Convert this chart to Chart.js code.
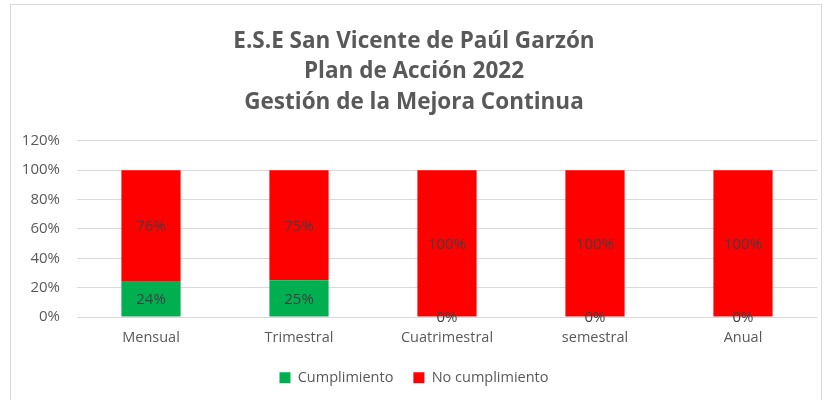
<!DOCTYPE html>
<html>
<head>
<meta charset="utf-8">
<script src="https://cdn.jsdelivr.net/npm/chart.js@4"></script>
<style>
  html, body { margin: 0; padding: 0; background: #fff; }
  #wrap { position: absolute; left: 10px; top: 4px; width: 812px; height: 400px; border: 1px solid #d9d9d9; box-sizing: border-box; }
  canvas { display: block; }
</style>
</head>
<body>
<div id="wrap"><canvas id="chart"></canvas></div>
<script>
const categories = ["Mensual", "Trimestral", "Cuatrimestral", "semestral", "Anual"];
const cumplimiento = [24, 25, 0, 0, 0];
const noCumplimiento = [76, 75, 100, 100, 100];
const titleLines = ["E.S.E San Vicente de Paúl Garzón", "Plan de Acción 2022", "Gestión de la Mejora Continua"];

// etiquetas de datos dentro de cada barra
const barLabels = {
  id: "barLabels",
  afterDatasetsDraw(chart) {
    const ctx = chart.ctx;
    ctx.save();
    ctx.font = "15px 'Open Sans', sans-serif";
    ctx.fillStyle = "#404040";
    ctx.textAlign = "center";
    ctx.textBaseline = "middle";
    chart.data.datasets.forEach((ds, i) => {
      chart.getDatasetMeta(i).data.forEach((bar, j) => {
        const p = bar.getCenterPoint();
        ctx.fillText(ds.data[j] + "%", p.x, p.y + 1);
      });
    });
    ctx.restore();
  }
};

new Chart(document.getElementById("chart"), {
  type: "bar",
  data: {
    labels: categories,
    datasets: [
      { label: "Cumplimiento", data: cumplimiento, backgroundColor: "#00b050", barPercentage: 0.4, categoryPercentage: 1 },
      { label: "No cumplimiento", data: noCumplimiento, backgroundColor: "#ff0000", barPercentage: 0.4, categoryPercentage: 1 }
    ]
  },
  options: {
    responsive: true,
    maintainAspectRatio: false,
    animation: false,
    layout: { padding: { left: 0, right: 4, top: 21, bottom: 8 } },
    scales: {
      x: {
        stacked: true,
        grid: { display: false },
        border: { display: false },
        ticks: { color: "#595959", font: { family: "'Open Sans', sans-serif", size: 14.5 }, padding: 4 }
      },
      y: {
        stacked: true,
        min: 0,
        max: 120,
        border: { display: false },
        grid: { color: "#d9d9d9", lineWidth: 1, drawTicks: false },
        afterFit: scale => { scale.width = 66; },
        ticks: {
          stepSize: 20,
          color: "#595959",
          padding: 17,
          font: { family: "'Open Sans', sans-serif", size: 15 },
          callback: v => v + "%"
        }
      }
    },
    plugins: {
      title: {
        display: true,
        text: titleLines,
        color: "#595959",
        font: { family: "'Open Sans', sans-serif", size: 22.5, weight: "bold", lineHeight: 1.36 },
        padding: { top: 0, bottom: 23 }
      },
      legend: {
        position: "bottom",
        labels: {
          color: "#595959",
          font: { family: "'Open Sans', sans-serif", size: 14.5 },
          boxWidth: 11,
          boxHeight: 11,
          padding: 20
        }
      },
      tooltip: { enabled: false }
    }
  },
  plugins: [barLabels]
});
</script>
</body>
</html>
